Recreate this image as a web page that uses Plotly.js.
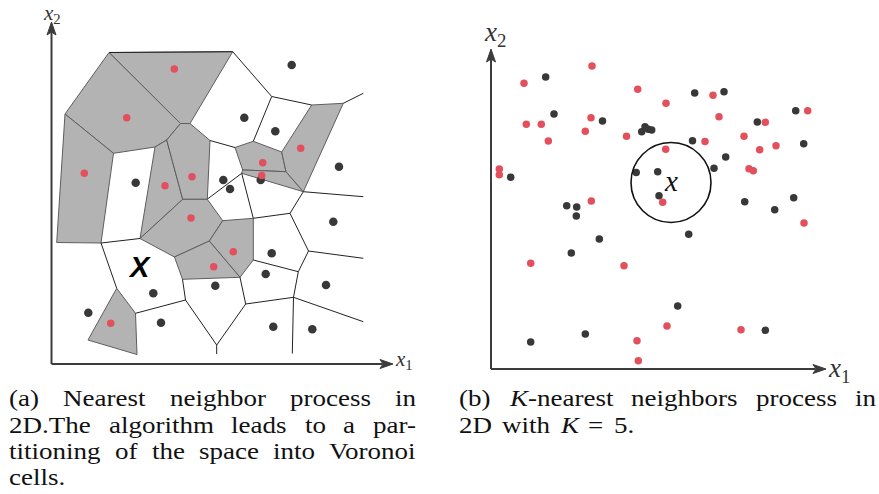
<!DOCTYPE html>
<html><head><meta charset="utf-8">
<script src="https://cdn.plot.ly/plotly-3.0.1.min.js"></script>
<style>html,body{margin:0;padding:0;background:#fff;overflow:hidden}#chart{width:879px;height:494px}</style>
</head><body><div id="chart"></div>
<script>
// ---------- Panel (a): Voronoi diagram (coordinates, pixel space, y downward) ----------
const leftRedX = [174.3,126.7,84.3,165,192,191,233.3,213.7,110.7,262.7,261.7,300.7];
const leftRedY = [69,117.7,173.3,185.7,176.7,218,251.7,266.7,323.3,162.7,175.5,148.3];
const leftBlackX = [291.7,244.3,275.3,339,135.7,223.3,230,260.7,333.3,271.7,265.7,215.3,326,153.3,88.3,161,273.3,312.3];
const leftBlackY = [65,117.7,131.3,166.7,182.7,180,189,180,221.7,253.3,274,285.7,285,293.3,312.7,322.7,326.7,329.3];

// grey (red-class) Voronoi cells: vertex lists
const cellsX = [
  [109,232.7,190,180.5],
  [109,180.5,166.7,155,113.5,65],
  [65,113.5,101,56.7],
  [155,166.7,182.7,140],
  [180.5,190,210,207.3,182.7,166.7],
  [182.7,207.3,222.7,209.3,174.5,140],
  [222.7,253.3,253.3,240,209.3],
  [209.3,240,182.5,174.5],
  [116.7,135.5,137,88],
  [235,253.3,281.7,286,242.7],
  [242.7,286,303.3,241.7],
  [311.7,343.3,303.3,286,281.7]
];
const cellsY = [
  [52.5,51.7,123.5,123.5],
  [52.5,123.5,140,147,153.3,114],
  [114,153.3,243,242.5],
  [147,140,199.3,238.5],
  [123.5,123.5,140.5,199.3,199.3,140],
  [199.3,199.3,220.7,241,257,238.5],
  [220.7,218.3,260,277.3,241],
  [241,277.3,279.3,257],
  [288.3,313.3,354.5,340],
  [147.5,141.3,152,171.7,170],
  [170,171.7,191.7,173.3],
  [105,103.3,191.7,171.7,152]
];
// remaining Voronoi edges [x1,y1,x2,y2]
const edges = [
  [232.7,51.7,271.7,96.5],[271.7,96.5,311.7,105],[271.7,96.5,253.3,141.3],[210,140.5,235,147.5],
  [343.3,103.3,363.3,93.3],[303.3,191.7,363.3,196.7],[303.3,191.7,290,213.3],[290,213.3,253.3,218.3],
  [241.7,173.3,253.3,218.3],[241.7,173.3,207.5,199],[290,213.3,308.5,251],[308.5,251,363.3,258.3],
  [308.5,251,298.3,271.7],[298.3,271.7,253.3,260],[298.3,271.7,293.5,297.3],[293.5,297.3,363.3,321.7],
  [293.5,297.3,292.3,353.5],[293.5,297.3,245.7,304],[245.7,304,240,277.3],[245.7,304,216.7,345],
  [216.7,345,216.7,354],[216.7,345,185.5,300],[185.5,300,182.5,279.3],[185.5,300,135.5,313.3],
  [116.7,288.3,101,243],[101,243,140,238.5],[109,52.5,232.7,51.7]
];

// ---------- Panel (b): K-nearest neighbours ----------
const rightRedX = [592,524,637.7,666,713,719,526.3,541.3,548.3,591,585.3,626.5,665.7,705,744,765.3,807.7,759.7,776,749,753.3,499.3,499.3,591.3,662.7,804,530.7,624,667,741,637,638.3];
const rightRedY = [66,83.3,89.3,103.3,95.3,116.7,124.3,124.3,141,117.7,131.3,136.2,149.3,141.5,136.3,122.3,110.7,149.7,145.7,168.7,170.7,169,174.7,201,202.2,223,263.3,265.7,326,329.7,340.7,360.7];
const rightBlackX = [545.7,554,602.5,641.7,645,648.3,651.7,694.7,724,692.5,725.7,714,757.3,795.7,803.7,510.7,636.2,657.7,659,566.7,576.7,576.3,599.3,571.3,688.7,744.7,774.7,793.7,677.7,585.3,530.7,765.3];
const rightBlackY = [77,114,121,131.7,126.7,129.3,130,93,91.7,140.7,157,168.3,122,110.7,143.7,177.3,172.5,171.7,195.7,205.7,207,216,239,253,234.3,201.7,209.7,197.7,306,334,342,330.3];
const queryPoint = {x:671, y:182.5, r:40};

// ---------- captions ----------
const captionA = ["(a) Nearest neighbor process in","2D.The algorithm leads to a par-","titioning of the space into Voronoi","cells."];
const captionB = ["(b) <i>K</i>-nearest neighbors process in","2D with <i>K</i> = 5."];

const RED = '#e3505d', BLACK = '#383838', GREY = '#b3b3b3';
const SERIF = 'Liberation Serif';
const traces = [];
cellsX.forEach((cx,i)=>{
  traces.push({type:'scatter',mode:'lines',x:cx.concat([cx[0]]),y:cellsY[i].concat([cellsY[i][0]]),
    fill:'toself',fillcolor:GREY,line:{color:'#5e5e5e',width:1},hoverinfo:'skip'});
});
const ex=[],ey=[];
edges.forEach(e=>{ex.push(e[0],e[2],null);ey.push(e[1],e[3],null);});
traces.push({type:'scatter',mode:'lines',x:ex,y:ey,line:{color:'#222',width:1},hoverinfo:'skip'});
traces.push({type:'scatter',mode:'markers',x:leftBlackX,y:leftBlackY,marker:{color:BLACK,size:8.5}});
traces.push({type:'scatter',mode:'markers',x:leftRedX,y:leftRedY,marker:{color:RED,size:7.5}});
traces.push({type:'scatter',mode:'markers',x:rightBlackX,y:rightBlackY,marker:{color:BLACK,size:7.5}});
traces.push({type:'scatter',mode:'markers',x:rightRedX,y:rightRedY,marker:{color:RED,size:7.5}});

const AX='#3c3c3c';
const shapes = [
  {type:'line',x0:51.5,y0:364,x1:51.5,y1:32,line:{color:AX,width:2}},
  {type:'path',path:'M51.5,22 L47,35 L51.5,32 L56,35 Z',fillcolor:AX,line:{color:AX,width:1}},
  {type:'line',x0:51.5,y0:364,x1:382,y1:364,line:{color:AX,width:2}},
  {type:'path',path:'M393,364 L380,359.5 L383,364 L380,368.5 Z',fillcolor:AX,line:{color:AX,width:1}},
  {type:'line',x0:491,y0:369,x1:491,y1:59,line:{color:AX,width:2}},
  {type:'path',path:'M491,49 L486.5,62 L491,59 L495.5,62 Z',fillcolor:AX,line:{color:AX,width:1}},
  {type:'line',x0:491,y0:369,x1:815,y1:369,line:{color:AX,width:2}},
  {type:'path',path:'M826,369 L813,364.5 L816,369 L813,373.5 Z',fillcolor:AX,line:{color:AX,width:1}},
  {type:'circle',x0:queryPoint.x-queryPoint.r,x1:queryPoint.x+queryPoint.r,y0:queryPoint.y-queryPoint.r,y1:queryPoint.y+queryPoint.r,line:{color:'#111',width:1.6}}
];
shapes.forEach(s=>{s.xref='x';s.yref='y';});

const ann = [];
function lab(x,y,text,size,family,color){
  ann.push({x:x,y:y,xref:'x',yref:'y',text:text,showarrow:false,xanchor:'center',yanchor:'middle',
    font:{family:family||SERIF,size:size,color:color||'#333'},borderpad:0});
}
lab(52,14,'<i>x</i><sub>2</sub>',21);
lab(404,360,'<i>x</i><sub>1</sub>',21);
lab(495,34,'<i>x</i><sub>2</sub>',27);
lab(839,370,'<i>x</i><sub>1</sub>',27);
lab(671,181,'<i>x</i>',29,SERIF,'#111');
lab(139,267,'<b><i>X</i></b>',29,'Liberation Sans','#000');

// caption words: glyphs widened by SX (the reference face is a wide Computer-Modern-like serif), lines justified
const CS=22.5, SX=1.2;
const capIdx=[];
const ctx=document.createElement('canvas').getContext('2d');
function wWidth(w){
  let t=0; w.split(/(<i>.*?<\/i>)/).forEach(p=>{ if(!p) return; const it=p.startsWith('<i>');
    ctx.font=(it?'italic ':'')+CS+'px "'+SERIF+'"'; t+=ctx.measureText(p.replace(/<\/?i>/g,'')).width;});
  return t*SX;
}
function capAnn(x,y,text){
  capIdx.push(ann.length);
  ann.push({x:x,y:y,xref:'x',yref:'y',text:text,showarrow:false,xanchor:'left',yanchor:'middle',align:'left',
    font:{family:SERIF,size:CS,color:'#111'},borderpad:0});
}
function capLine(text,L,R,base,justify){
  const yy=base-0.33*CS;
  const words=text.split(' '); const ws=words.map(wWidth); const sum=ws.reduce((a,b)=>a+b,0);
  const gap = justify ? (R-L-sum)/(words.length-1) : 10;
  let x=L;
  words.forEach((w,i)=>{ capAnn(x,yy,w); x+=ws[i]+gap; });
}
const basesA=[406.3,432.5,458.5,484.5];
captionA.forEach((t,i)=>capLine(t,8.3,415,basesA[i],i<3));
const basesB=[406.3,433];
captionB.forEach((t,i)=>capLine(t,458.3,875,basesB[i],i<1));

const layout={width:879,height:494,margin:{l:0,r:0,t:0,b:0},showlegend:false,
  paper_bgcolor:'#fff',plot_bgcolor:'#fff',
  xaxis:{range:[0,879],visible:false,fixedrange:true},
  yaxis:{range:[494,0],visible:false,fixedrange:true},
  shapes:shapes,annotations:ann,hovermode:false};
Plotly.newPlot('chart',traces,layout,{displayModeBar:false,staticPlot:true}).then(gd=>{
  gd.querySelectorAll('.annotation').forEach(g=>{
    const i=+g.getAttribute('data-index');
    if(capIdx.indexOf(i)<0) return;
    const t=g.querySelector('text.annotation-text'); if(!t) return;
    const x0=parseFloat(t.getAttribute('x'))||0;
    const prev=t.getAttribute('transform')||'';
    t.setAttribute('transform','translate('+x0+',0) scale('+SX+',1) translate('+(-x0)+',0) '+prev);
  });
});
</script></body></html>
